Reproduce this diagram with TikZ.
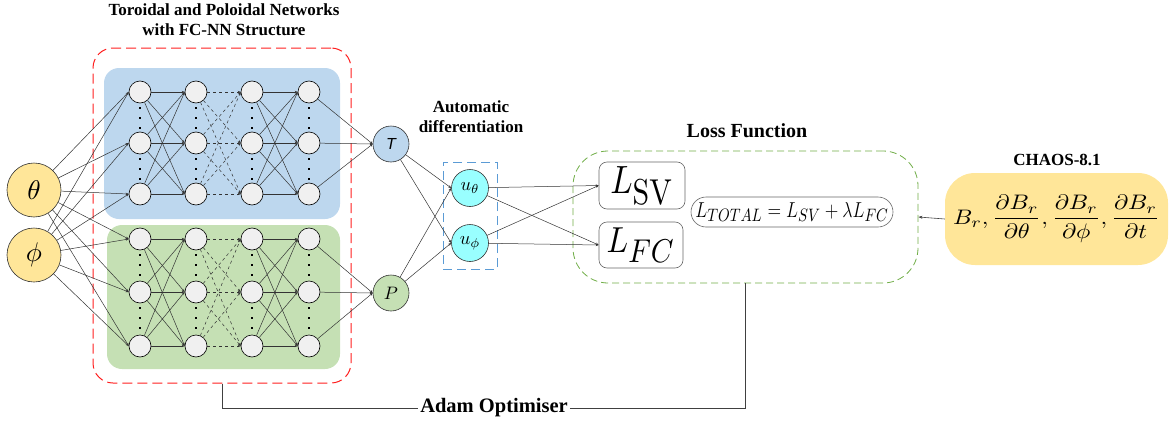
\documentclass[tikz,border=0pt]{standalone}
\usepackage{amsmath}
\usepackage{graphicx}
\usepackage[no-math]{fontspec}
\setmainfont{Liberation Serif}
\newfontfamily\arialf{Liberation Sans}
\DeclareMathSizes{10.95}{10.95}{10}{7}
\DeclareMathSizes{12}{12}{10}{7}
\usetikzlibrary{arrows.meta}
\definecolor{inyellow}{RGB}{255,230,153}
\definecolor{netblue}{RGB}{189,215,238}
\definecolor{netgreen}{RGB}{197,224,180}
\definecolor{ucyan}{RGB}{153,255,255}
\definecolor{neurgray}{RGB}{240,240,240}
\definecolor{redd}{RGB}{255,30,30}
\definecolor{greend}{RGB}{112,173,71}
\definecolor{blued}{RGB}{91,155,213}
\tikzset{
  neuron/.style={circle,draw=black,line width=0.6pt,fill=neurgray,minimum size=22pt,inner sep=0pt},
  bignode/.style={circle,draw=black!80,line width=0.6pt,inner sep=0pt},
  conn/.style={line width=0.5pt,draw=black!80,-{Stealth[length=3pt,width=2.4pt]}},
  dconn/.style={conn,dashed},
  plain/.style={line width=0.6pt,draw=black!75},
  ttl/.style={font=\bfseries\fontsize{17}{20}\selectfont,align=center},
  lbox/.style={draw=black!60,line width=0.6pt,inner sep=0pt},
  dotdot/.style={rectangle,fill=black,inner sep=0pt,minimum size=2.8pt},
}
\begin{document}
\begin{tikzpicture}[x=1pt,y=-1pt]
\useasboundingbox (0,0) rectangle (1175,423);
% containers
\node[draw=redd,dashed,dash pattern=on 10pt off 5pt,line width=1pt,rounded corners=20pt,minimum width=258pt,minimum height=335pt] (net) at (222,215.5) {};
\node[fill=netblue,rounded corners=15pt,minimum width=236pt,minimum height=151pt] (tnet) at (222,143.5) {};
\node[fill=netgreen,rounded corners=15pt,minimum width=233pt,minimum height=144pt] (pnet) at (223.5,297) {};
\node[ttl] (ttitle) at (224,20) {Toroidal and Poloidal Networks\\with FC-NN Structure};
% neurons
\foreach \c/\x in {1/140,2/196,3/252,4/309}{
  \foreach \r/\y in {1/92,2/143,3/194}{
    \node[neuron] (b\c\r) at (\x,\y) {};
  }
  \foreach \r/\y in {1/239,2/292,3/346}{
    \node[neuron] (g\c\r) at (\x,\y) {};
  }
  \foreach \y in {108,118,128,159,169,179,255,265,275,308,318,328}{
    \node[dotdot] at (\x,\y) {};
  }
}
% inputs
\node[bignode,fill=inyellow,minimum size=54pt] (theta) at (34,190) {\scalebox{2.7}{$\theta$}};
\node[bignode,fill=inyellow,minimum size=54pt] (phi) at (34,255) {\scalebox{2.7}{$\phi$}};
% outputs
\node[bignode,fill=netblue,minimum size=36pt,font=\fontsize{16}{16}\selectfont] (T) at (391,144) {\arialf\itshape T};
\node[bignode,fill=netgreen,minimum size=36pt] (P) at (391,293) {\scalebox{1.8}{$P$}};
% autodiff
\node[draw=blued,dashed,dash pattern=on 9pt off 5pt,line width=0.9pt,minimum width=54pt,minimum height=107pt] (ad) at (470,215.5) {};
\node[ttl] (adtitle) at (471,117) {Automatic\\differentiation};
\node[bignode,fill=ucyan,minimum size=37pt] (ut) at (470,188) {\scalebox{1.85}{$u_\theta$}};
\node[bignode,fill=ucyan,minimum size=37pt] (up) at (470,243) {\scalebox{1.85}{$u_\phi$}};
% loss
\node[draw=greend,dashed,dash pattern=on 7pt off 4pt,line width=0.8pt,rounded corners=35pt,minimum width=345pt,minimum height=132pt] (loss) at (745.5,217) {};
\node[ttl,font=\bfseries\fontsize{20}{22}\selectfont] (losstitle) at (747,131) {Loss Function};
\node[lbox,rounded corners=8pt,minimum width=86pt,minimum height=47pt] (lsv) at (642,185.5) {\raisebox{4pt}{\scalebox{3.0}[3.6]{\fontsize{10.95}{12}\selectfont$L_{\mathrm{SV}}$}}};
\node[lbox,rounded corners=8pt,minimum width=84pt,minimum height=46pt] (lfc) at (641,245) {\raisebox{3pt}{\scalebox{2.9}[3.3]{\fontsize{10.95}{12}\selectfont$L_{FC}$}}};
\node[lbox,rounded corners=15pt,minimum width=202pt,minimum height=30pt] (ltot) at (792,212) {\scalebox{1.49}[1.8]{\fontsize{12}{14}\selectfont$L_{TOTAL}=L_{SV}+\lambda L_{FC}$}};
% CHAOS
\node[fill=inyellow,rounded corners=30pt,minimum width=223pt,minimum height=92pt,inner sep=0pt] (chaos) at (1056.5,219) {\scalebox{2.4}[2.1]{$B_r,\dfrac{\partial B_r}{\partial\theta},\dfrac{\partial B_r}{\partial\phi},\dfrac{\partial B_r}{\partial t}$}};
\node[ttl] (chaostitle) at (1057,160) {CHAOS-8.1};
% Adam
\node[font=\bfseries\fontsize{20.5}{22}\selectfont,inner sep=2pt] (adam) at (494,408) {Adam Optimiser};
% connections: inputs -> first layer
\foreach \i in {theta,phi}{
  \foreach \r in {1,2,3}{
    \draw[conn] (\i) -- (b1\r.west);
    \draw[conn] (\i) -- (g1\r.west);
  }
}
\foreach \n in {b,g}{
  \foreach \i in {1,2,3}{
    \foreach \j in {1,2,3}{
      \draw[conn] (\n1\i) -- (\n2\j.west);
      \draw[dconn] (\n2\i) -- (\n3\j.west);
      \draw[conn] (\n3\i) -- (\n4\j.west);
    }
  }
}
\foreach \r in {1,2,3}{
  \draw[conn] (b4\r) -- (T.west);
  \draw[conn] (g4\r) -- (P.west);
}
\foreach \s in {T,P}{
  \draw[conn] (\s) -- (ut.west);
  \draw[conn] (\s) -- (up.west);
}
\foreach \s in {ut,up}{
  \draw[conn] (\s) -- (lsv.west);
  \draw[conn] (\s) -- (lfc.west);
}
\draw[plain,-{Stealth[length=4pt,width=3pt]}] (chaos.west) -- (loss.east);
\draw[plain] (net.south) |- (adam.west);
\draw[plain] (adam.east) -| (loss.south);
\end{tikzpicture}
\end{document}
